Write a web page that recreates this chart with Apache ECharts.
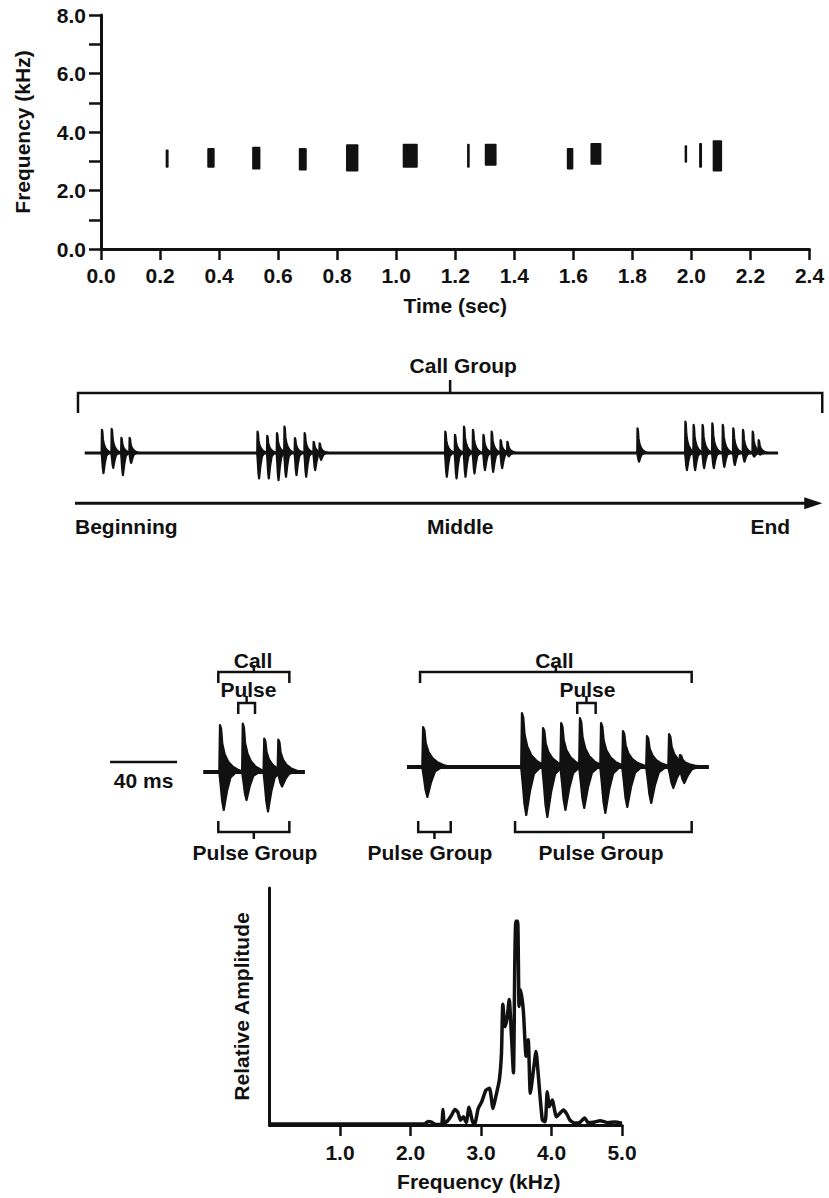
<!DOCTYPE html>
<html>
<head>
<meta charset="utf-8">
<title>Call group structure</title>
<script src="https://cdn.jsdelivr.net/npm/echarts@6.0.0/dist/echarts.min.js"></script>
<style>
  html, body { margin: 0; padding: 0; background: #fff; }
  #chart { width: 829px; height: 1198px; }
</style>
</head>
<body>
<div id="chart"></div>
<script>
const INK = '#111'
const FONT = '"Liberation Sans", Arial, Helvetica, sans-serif'

// spectrogram marks: [start (s), end (s), low (kHz), high (kHz)]
const spectroCalls = [
  [0.219, 0.229, 2.78, 3.40],
  [0.360, 0.385, 2.78, 3.45],
  [0.512, 0.540, 2.72, 3.50],
  [0.670, 0.697, 2.68, 3.45],
  [0.830, 0.872, 2.65, 3.58],
  [1.022, 1.073, 2.78, 3.60],
  [1.240, 1.249, 2.78, 3.60],
  [1.300, 1.340, 2.85, 3.60],
  [1.578, 1.600, 2.72, 3.45],
  [1.658, 1.695, 2.88, 3.62],
  [1.977, 1.985, 2.95, 3.55],
  [2.026, 2.036, 2.78, 3.62],
  [2.072, 2.104, 2.65, 3.72]
]

// call group schematic: x in % of the call group, amplitude relative
// pulses: [position, up, down]
const groupPulses = [
  [3.6, 0.70, 0.61], [4.9, 0.73, 0.45], [6.2, 0.46, 0.67], [7.3, 0.46, 0.30],
  [24.4, 0.65, 0.77], [25.7, 0.52, 0.77], [27.0, 0.60, 0.82], [28.0, 0.80, 0.72],
  [29.4, 0.45, 0.67], [30.7, 0.60, 0.72], [31.9, 0.34, 0.52], [32.7, 0.29, 0.21],
  [49.5, 0.65, 0.72], [50.8, 0.55, 0.77], [52.0, 0.80, 0.72], [53.2, 0.70, 0.62],
  [54.6, 0.55, 0.52], [55.7, 0.65, 0.57], [56.9, 0.39, 0.46], [57.8, 0.34, 0.10],
  [75.2, 0.75, 0.26],
  [81.6, 0.95, 0.52], [82.7, 0.85, 0.52], [83.9, 0.85, 0.46], [85.2, 0.90, 0.46],
  [86.6, 0.85, 0.42], [88.0, 0.75, 0.36], [89.3, 0.70, 0.26], [90.6, 0.65, 0.11],
  [91.4, 0.39, 0.05]
]
const groupBaseline = [[1.3, 0], [94.0, 0]]
const groupBracket = [[0.4, 99.9, 1.82, 1]]
const groupArrow = [[0, 99.9, -1.52]]
const groupLabels = [
  ['Call Group', 51.9, 2.64],
  ['Beginning', 0, -2.24],
  ['Middle', 51.5, -2.24],
  ['End', 95.6, -2.24]
]

// call detail: x in ms, amplitude relative
const callABase = -0.1
const callAPulses = [[71.6, 0.94, 0.76], [85.2, 0.97, 0.56], [98.0, 0.67, 0.79], [106.4, 0.65, 0.29]]
const callALine = [[61.6, callABase], [122.3, callABase]]
const callBBase = 0
const callBPulses = [
  [192.8, 0.80, 0.60],
  [251.8, 1.08, 0.96], [264.4, 0.78, 1.00], [275.2, 0.88, 0.86], [286.4, 0.98, 0.82],
  [299.0, 0.88, 0.92], [312.1, 0.72, 0.80], [326.4, 0.62, 0.72], [339.6, 0.66, 0.42],
  [346.1, 0.24, 0.32]
]
const callBLine = [[183.2, callBBase], [363.4, callBBase]]
const scaleBar = [[6.0, 0.10], [46.0, 0.10]]
// brackets: [from, to, level, 1 = above / -1 = below]
const detailBrackets = [
  [70.6, 113.0, 1.90, 1], [82.5, 92.5, 1.28, 1], [70.6, 113.0, -1.30, -1],
  [191.0, 353.1, 1.90, 1], [284.8, 295.8, 1.28, 1],
  [189.9, 209.3, -1.30, -1], [247.7, 353.1, -1.30, -1]
]
const detailLabels = [
  ['Call', 91.3, 2.14], ['Pulse', 88.6, 1.56], ['Pulse Group', 92.5, -1.70],
  ['40 ms', 26.0, -0.26],
  ['Call', 271.2, 2.14], ['Pulse', 290.9, 1.56],
  ['Pulse Group', 196.9, -1.70], ['Pulse Group', 299.0, -1.70]
]

// amplitude spectrum: [kHz, relative amplitude]
const spectrum = [
  [0, 0.004], [1.0, 0.004], [2.0, 0.004], [2.2, 0.005], [2.25, 0.015], [2.3, 0.012],
  [2.36, 0.002], [2.44, 0.004], [2.46, 0.065], [2.48, 0.01], [2.52, 0.015], [2.58, 0.04],
  [2.63, 0.065], [2.67, 0.055], [2.71, 0.02], [2.75, 0.035], [2.79, 0.01], [2.83, 0.075],
  [2.88, 0.014], [2.91, 0.004], [2.96, 0.07], [3.01, 0.098], [3.07, 0.147], [3.12, 0.155],
  [3.17, 0.07], [3.21, 0.12], [3.26, 0.19], [3.29, 0.30], [3.31, 0.51], [3.34, 0.415],
  [3.37, 0.45], [3.40, 0.53], [3.43, 0.387], [3.46, 0.22], [3.48, 0.70], [3.495, 0.86],
  [3.52, 0.86], [3.54, 0.50], [3.56, 0.57], [3.60, 0.485], [3.64, 0.29], [3.67, 0.36],
  [3.70, 0.134], [3.75, 0.246], [3.78, 0.31], [3.81, 0.22], [3.87, 0.021], [3.91, 0.014],
  [3.94, 0.14], [3.97, 0.077], [4.01, 0.105], [4.07, 0.035], [4.12, 0.05], [4.17, 0.063],
  [4.22, 0.045], [4.26, 0.021], [4.33, 0.008], [4.4, 0.01], [4.47, 0.03], [4.52, 0.01],
  [4.6, 0.012], [4.69, 0.018], [4.8, 0.01], [4.9, 0.013], [5.0, 0.008]
]
const spectrumTicks = [1, 2, 3, 4, 5]

const ALIGN = { Beginning: 'left', End: 'right' }

// pulse outline, fraction of decay width / of peak
const TOP = [[-0.03, 0], [0, 1], [0.05, 0.92], [0.1, 0.6], [0.2, 0.38], [0.35, 0.22], [0.55, 0.11], [0.8, 0.04], [1, 0]]
const BOTTOM = [[0.7, 0], [0.45, 0.14], [0.3, 0.5], [0.16, 1], [0.09, 0.75], [0.03, 0.35], [-0.03, 0]]

const textStyle = { color: INK, fontFamily: FONT, fontWeight: 'bold', fontSize: 21 }

function pulseSeries(pulses, base, width, idx, lw) {
  return {
    type: 'custom', xAxisIndex: idx, yAxisIndex: idx, clip: false, silent: true,
    data: pulses,
    renderItem(params, api) {
      const x = api.value(0), up = api.value(1), dn = api.value(2)
      const pts = []
      TOP.forEach(([dx, h]) => pts.push(api.coord([x + dx * width, base + h * up])))
      BOTTOM.forEach(([dx, h]) => pts.push(api.coord([x + dx * width, base - h * dn])))
      return {
        type: 'polygon', shape: { points: pts },
        style: { fill: INK, stroke: INK, lineWidth: lw, lineJoin: 'round' }
      }
    }
  }
}

function lineSeries(data, idx, width) {
  return {
    type: 'line', xAxisIndex: idx, yAxisIndex: idx, data, symbol: 'none', silent: true,
    lineStyle: { color: INK, width }
  }
}

function bracketSeries(list, idx, tip, stem, lw) {
  return {
    type: 'custom', xAxisIndex: idx, yAxisIndex: idx, clip: false, silent: true,
    data: list,
    renderItem(params, api) {
      const a = api.coord([api.value(0), api.value(2)])
      const b = api.coord([api.value(1), api.value(2)])
      const s = api.value(3)
      const mid = (a[0] + b[0]) / 2
      const st = { stroke: INK, lineWidth: lw, fill: null, lineJoin: 'miter' }
      return {
        type: 'group',
        children: [
          { type: 'polyline', shape: { points: [[a[0], a[1] + tip * s], a, b, [b[0], b[1] + tip * s]] }, style: st },
          { type: 'line', shape: { x1: mid, y1: a[1], x2: mid, y2: a[1] - stem * s }, style: st }
        ]
      }
    }
  }
}

function labelSeries(list, idx) {
  return {
    type: 'custom', xAxisIndex: idx, yAxisIndex: idx, clip: false, silent: true,
    data: list.map(l => [l[1], l[2]]),
    renderItem(params, api) {
      const item = list[params.dataIndex]
      const p = api.coord([api.value(0), api.value(1)])
      const align = ALIGN[item[0]] || 'center'
      return {
        type: 'text', x: p[0], y: p[1],
        style: {
          text: item[0], fill: INK, font: 'bold 21px ' + FONT,
          align, verticalAlign: 'middle', textAlign: align, textVerticalAlign: 'middle'
        }
      }
    }
  }
}

const option = {
  animation: false,
  backgroundColor: '#fff',
  grid: [
    { left: 101, top: 15, width: 708.5, height: 234, outerBoundsMode: 'none' },
    { left: 75, top: 354, width: 748, height: 198, outerBoundsMode: 'none' },
    { left: 100, top: 637, width: 620, height: 235, outerBoundsMode: 'none' },
    { left: 269.5, top: 888, width: 352.5, height: 237, outerBoundsMode: 'none' }
  ],
  xAxis: [
    {
      gridIndex: 0, type: 'value', min: 0, max: 2.4, interval: 0.2,
      name: 'Time (sec)', nameLocation: 'middle', nameGap: 46, nameTextStyle: textStyle,
      axisLine: { show: true, lineStyle: { color: INK, width: 3 } },
      axisTick: { show: true, length: 11, lineStyle: { color: INK, width: 2.5 } },
      axisLabel: { ...textStyle, margin: 16, formatter: v => v.toFixed(1) },
      splitLine: { show: false }
    },
    { gridIndex: 1, type: 'value', min: 0, max: 100, show: false },
    { gridIndex: 2, type: 'value', min: 0, max: 370, show: false },
    {
      gridIndex: 3, type: 'value', min: 0, max: 5, interval: 1,
      name: 'Frequency (kHz)', nameLocation: 'middle', nameGap: 46,
      nameTextStyle: { ...textStyle, padding: [0, 0, 0, 66] },
      axisLine: { show: true, lineStyle: { color: INK, width: 3 } },
      axisTick: { show: true, length: 11, customValues: spectrumTicks, lineStyle: { color: INK, width: 2.5 } },
      axisLabel: { ...textStyle, margin: 17, customValues: spectrumTicks, formatter: v => v.toFixed(1) },
      splitLine: { show: false }
    }
  ],
  yAxis: [
    {
      gridIndex: 0, type: 'value', min: 0, max: 8, interval: 1,
      name: 'Frequency (kHz)', nameLocation: 'middle', nameRotate: 90, nameGap: 68, nameTextStyle: textStyle,
      axisLine: { show: true, lineStyle: { color: INK, width: 3 } },
      axisTick: { show: true, length: 12, lineStyle: { color: INK, width: 2.5 } },
      axisLabel: { ...textStyle, margin: 15, formatter: v => (v % 2 === 0 ? v.toFixed(1) : '') },
      splitLine: { show: false }
    },
    { gridIndex: 1, type: 'value', min: -3, max: 3, show: false },
    { gridIndex: 2, type: 'value', min: -2.1, max: 2.6, show: false },
    {
      gridIndex: 3, type: 'value', min: 0, max: 1,
      name: 'Relative Amplitude', nameLocation: 'middle', nameRotate: 90, nameGap: 18, nameTextStyle: textStyle,
      axisLine: { show: true, lineStyle: { color: INK, width: 3 } },
      axisTick: { show: false },
      axisLabel: { show: false },
      splitLine: { show: false }
    }
  ],
  series: [
    // spectrogram
    {
      type: 'custom', xAxisIndex: 0, yAxisIndex: 0, silent: true,
      data: spectroCalls,
      renderItem(params, api) {
        const p0 = api.coord([api.value(0), api.value(3)])
        const p1 = api.coord([api.value(1), api.value(2)])
        return {
          type: 'rect',
          shape: { x: p0[0], y: p0[1], width: Math.max(p1[0] - p0[0], 2.5), height: p1[1] - p0[1], r: 1 },
          style: { fill: INK }
        }
      }
    },
    // call group schematic
    lineSeries(groupBaseline, 1, 3),
    pulseSeries(groupPulses, 0, 1.3, 1, 2.2),
    bracketSeries(groupBracket, 1, 20, 13, 2.5),
    {
      type: 'custom', xAxisIndex: 1, yAxisIndex: 1, clip: false, silent: true,
      data: groupArrow,
      renderItem(params, api) {
        const a = api.coord([api.value(0), api.value(2)])
        const b = api.coord([api.value(1), api.value(2)])
        return {
          type: 'group',
          children: [
            { type: 'line', shape: { x1: a[0], y1: a[1], x2: b[0] - 10, y2: b[1] }, style: { stroke: INK, lineWidth: 3 } },
            { type: 'polygon', shape: { points: [[b[0], b[1]], [b[0] - 18, b[1] - 6], [b[0] - 18, b[1] + 6]] }, style: { fill: INK } }
          ]
        }
      }
    },
    labelSeries(groupLabels, 1),
    // call detail
    lineSeries(callALine, 2, 4),
    lineSeries(callBLine, 2, 4),
    pulseSeries(callAPulses, callABase, 14, 2, 2.2),
    pulseSeries(callBPulses, callBBase, 16, 2, 2.2),
    lineSeries(scaleBar, 2, 2.5),
    bracketSeries(detailBrackets, 2, 11, 7, 2.5),
    labelSeries(detailLabels, 2),
    // spectrum
    {
      type: 'line', xAxisIndex: 3, yAxisIndex: 3, data: spectrum, symbol: 'none', silent: true,
      smooth: 0.2, lineStyle: { color: INK, width: 3.5 }
    }
  ]
}

const chart = echarts.init(document.getElementById('chart'), null, { renderer: 'svg' })
chart.setOption(option)
</script>
</body>
</html>
